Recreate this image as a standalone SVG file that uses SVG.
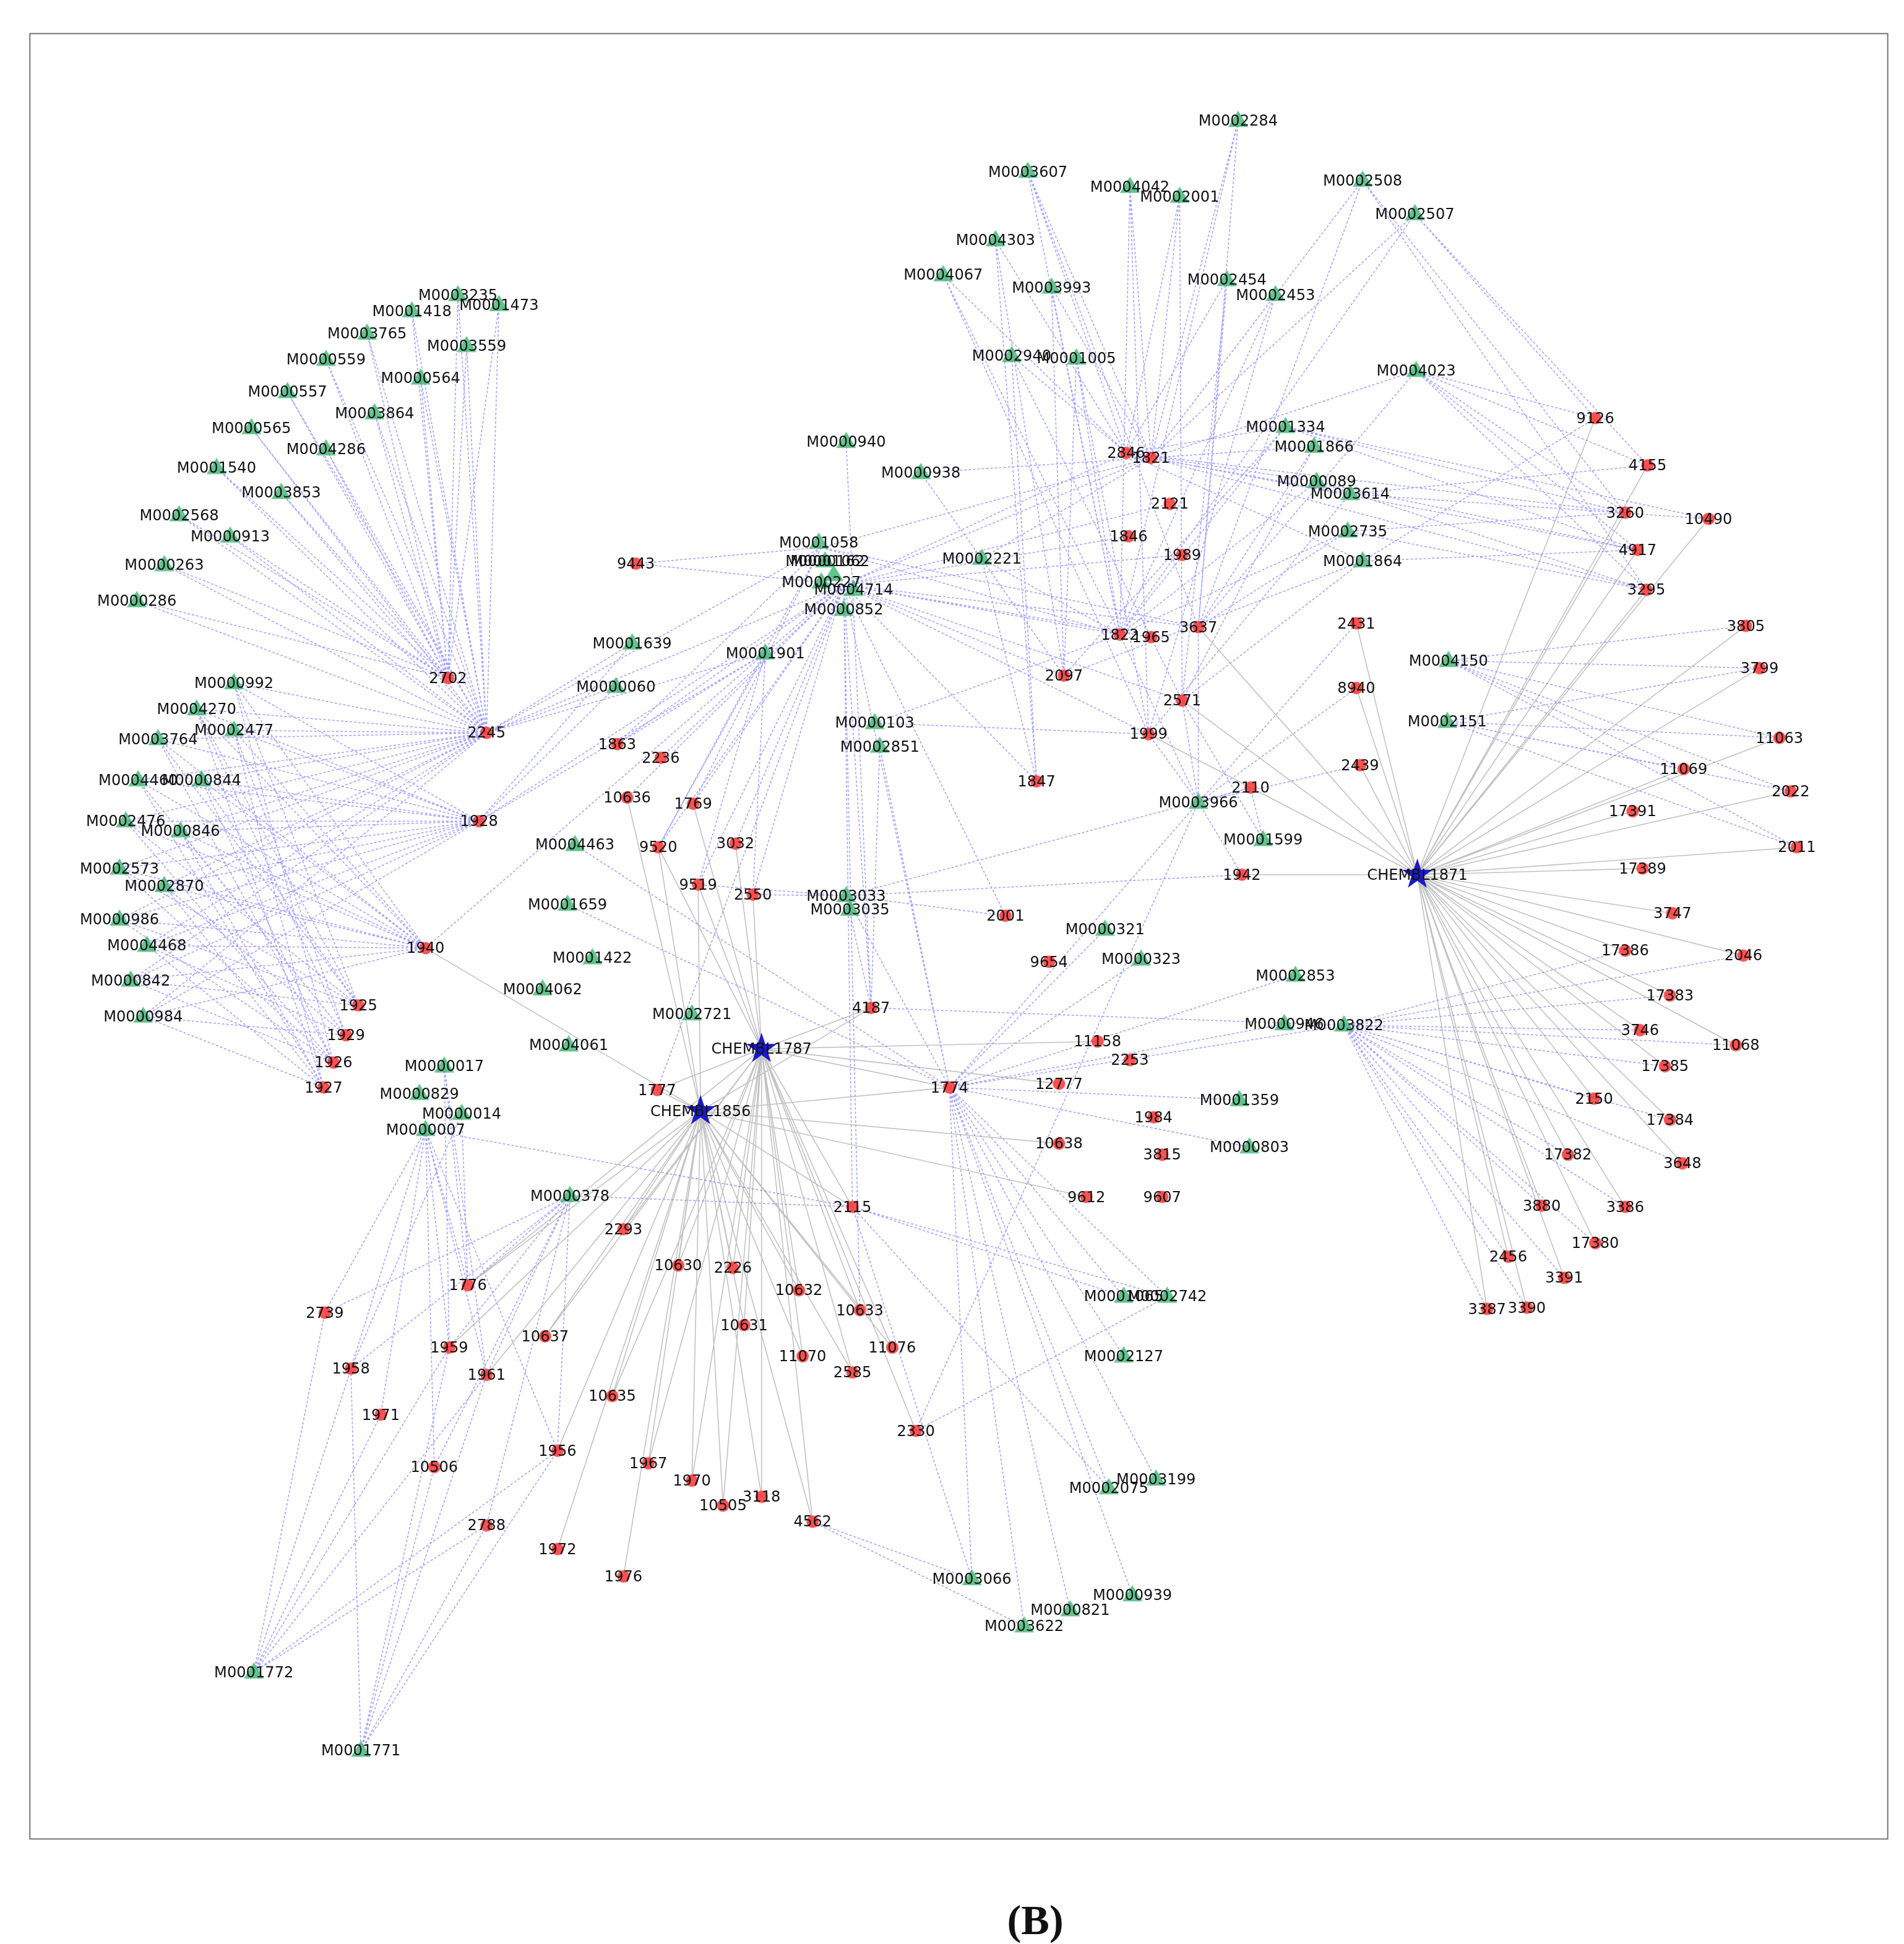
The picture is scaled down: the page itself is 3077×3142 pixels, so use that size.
<svg xmlns="http://www.w3.org/2000/svg" xmlns:xlink="http://www.w3.org/1999/xlink" width="3077" height="3142" viewBox="0 0 3077 3142">
<style>
.b{fill:none;stroke:#5a5aff;stroke-width:0.8;stroke-dasharray:2 1.5;opacity:0.55}
.g{fill:none;stroke:#999;stroke-width:0.8;opacity:0.6}
.t{fill:#3cb371;opacity:0.8}
.r{fill:#ff3333;opacity:0.85}
.s{fill:#1a1acc}
text{font-family:"DejaVu Sans",sans-serif;font-size:12px;fill:#111;text-anchor:middle;dominant-baseline:central}
.cap{font-family:"Liberation Serif",serif;font-size:34px;font-weight:bold}
</style>
<defs>
<polygon id="tri" points="0,-8 8,5 -8,5"/>
<circle id="cir" r="5"/>
<polygon id="star" points="0,-13 3,-4 12.4,-4 4.8,1.5 7.6,10.5 0,5 -7.6,10.5 -4.8,1.5 -12.4,-4 -3,-4"/>
</defs>
<rect width="3077" height="3142" fill="#fff"/>
<g transform="scale(2.011)">
<rect x="24" y="27" width="1493" height="1451" fill="none" stroke="#777" stroke-width="1"/>
<g id="connectors">
<path class="b" d="M360 545L368 237M360 545L331 250M360 545L401 245M360 545L295 268M360 545L375 278M360 545L262 289M360 545L338 304M360 545L231 315M360 545L301 332M360 545L202 344M360 545L262 361M360 545L174 376M360 545L226 396M360 545L144 414M360 545L185 431M360 545L132 454M360 545L110 483
M391 589L368 237M391 589L331 250M391 589L401 245M391 589L295 268M391 589L375 278M391 589L262 289M391 589L338 304M391 589L231 315M391 589L301 332M391 589L202 344M391 589L262 361M391 589L174 376M391 589L226 396M391 589L144 414M391 589L185 431M391 589L132 454M391 589L110 483
M391 589L188 549M391 589L158 570M391 589L188 587M391 589L127 594M391 589L111 627M391 589L162 627M391 589L101 660M391 589L145 668M391 589L96 698M391 589L132 712M391 589L96 739M391 589L118 760M391 589L105 788M391 589L115 817
M385 660L188 549M385 660L158 570M385 660L188 587M385 660L127 594M385 660L111 627M385 660L162 627M385 660L101 660M385 660L145 668M385 660L96 698M385 660L132 712M385 660L96 739M385 660L118 760M385 660L105 788M385 660L115 817
M342 762L188 549M342 762L158 570M342 762L188 587M342 762L127 594M342 762L111 627M342 762L162 627M342 762L101 660M342 762L145 668M342 762L96 698M342 762L132 712M342 762L96 739M342 762L118 760M342 762L105 788M342 762L115 817
M288 808L188 549M288 808L158 570M288 808L127 594M288 808L162 627M288 808L101 660M288 808L96 698M288 808L96 739M288 808L105 788
M278 832L188 587M278 832L111 627M278 832L145 668M278 832L132 712M278 832L118 760M278 832L115 817M278 832L158 570
M268 854L188 549M268 854L127 594M268 854L162 627M268 854L101 660M268 854L96 698M268 854L96 739M268 854L105 788
M260 874L188 587M260 874L111 627M260 874L145 668M260 874L132 712M260 874L118 760M260 874L115 817M260 874L158 570
M678 470L511 453M678 470L496 598M678 470L531 609M678 470L504 641M678 470L557 646M678 470L529 681M678 470L591 678M678 470L561 711M678 470L605 719M678 470L391 589M678 470L385 660M678 470L900 510M678 470L925 512M678 470L963 504M678 470L905 364M678 470L925 368M678 470L940 405M678 470L907 431M678 470L950 446M678 470L855 543M678 470L833 628M678 470L808 736M678 470L700 810M678 470L685 970M678 470L691 1053M678 470L763 874M678 470L528 876M678 470L342 762M678 470L950 563M678 470L923 590
M660 440L511 453M660 440L496 598M660 440L557 646M660 440L529 681M660 440L900 510M660 440L925 368M660 440L963 504M660 440L391 589M615 525L496 598M615 525L529 681M615 525L561 711M615 525L605 719M615 525L391 589M615 525L385 660M495 552L391 589M495 552L385 660M508 517L385 660M508 517L391 589
M826 138L925 368M826 138L905 364M826 138L900 510M826 138L963 504M908 150L925 368M908 150L900 510M908 150L923 590M948 158L925 368M948 158L905 364M948 158L950 563M995 97L925 368M995 97L963 504M995 97L900 510M1095 145L925 368M1095 145L963 504M1137 172L925 368M1137 172L900 510M800 193L905 364M800 193L855 543M800 193L833 628M758 221L905 364M758 221L900 510M758 221L923 590M845 231L925 368M845 231L900 510M845 231L855 543M986 225L905 364M986 225L963 504M986 225L950 563M1025 237L925 368M1025 237L900 510M1025 237L923 590M813 286L905 364M813 286L950 563M813 286L833 628M865 288L900 510M865 288L923 590M865 288L855 543M1138 298L925 368M1138 298L963 504M1033 343L905 364M1033 343L900 510M1033 343L855 543M1056 359L925 368M1056 359L963 504M1056 359L950 563M1058 387L905 364M1058 387L900 510M1085 397L925 368M1085 397L923 590M1083 427L900 510M1083 427L963 504M1095 451L905 364M1095 451L950 563M1095 451L855 543M789 449L925 368M789 449L900 510M789 449L833 628M680 355L700 810M740 380L855 543M740 380L925 368
M1138 298L1282 336M1138 298L1324 374M1138 298L1306 412M1138 298L1316 442M1138 298L1323 474M1137 172L1282 336M1137 172L1324 374M1095 145L1306 412M1095 145L1323 474M1033 343L1306 412M1033 343L1316 442M1033 343L1373 417M1058 387L1323 474M1058 387L1316 442M1085 397L1324 374M1085 397L1373 417M1083 427L1306 412M1083 427L1323 474M1095 451L1316 442M1095 451L1282 336M925 368L1323 474M905 364L1306 412M925 368L1316 442
M1080 824L1342 800M1080 824L1318 828M1080 824L1338 857M1080 824L1281 883M1080 824L1342 900M1080 824L1352 935M1080 824L1260 928M1080 824L1239 969M1080 824L1306 970M1080 824L1282 999M1080 824L1212 1010M1080 824L1257 1027M1080 824L1195 1052M1080 824L1227 1051M1080 824L1395 840M1080 824L1401 768M1080 824L1306 764M1080 824L763 874M1080 824L700 810
M1164 531L1430 593M1164 531L1353 618M1164 531L1439 636M1164 531L1444 681M1164 531L1403 503M1164 531L1414 537M1163 580L1430 593M1163 580L1353 618M1163 580L1439 636M1163 580L1444 681M1163 580L1414 537
M342 908L261 1055M342 908L282 1100M342 908L306 1137M342 908L361 1083M342 908L391 1105M342 908L376 1033M342 908L349 1179M342 908L448 1166M458 961L261 1055M458 961L282 1100M458 961L361 1083M458 961L391 1105M458 961L376 1033M458 961L391 1226M458 961L448 1166M458 961L349 1179M357 857L376 1033M357 857L361 1083M357 857L391 1105M371 895L376 1033M371 895L282 1100
M204 1344L282 1100M204 1344L306 1137M204 1344L261 1055M204 1344L361 1083M204 1344L391 1105M204 1344L448 1166M204 1344L391 1226M290 1407L282 1100M290 1407L349 1179M290 1407L391 1105M290 1407L448 1166M290 1407L361 1083M290 1407L391 1226
M763 874L903 1042M763 874L938 1042M763 874L903 1090M763 874L929 1189M763 874L891 1196M763 874L781 1269M763 874L910 1282M763 874L860 1294M763 874L823 1307M763 874L1041 784M763 874L1032 823M763 874L996 884M763 874L1004 922M763 874L963 645M763 874L888 747M763 874L917 771M763 874L462 679M763 874L456 727
M963 645L900 510M963 645L963 504M963 645L950 563M963 645L923 590M963 645L1005 633M963 645L998 703M963 645L1093 615M963 645L1090 553M963 645L1090 501M1015 675L950 563M1015 675L1005 633
M685 970L903 1042M685 970L938 1042M685 970L891 1196M685 970L781 1269M685 970L458 961M685 970L342 908M653 1223L781 1269M653 1223L823 1307M736 1150L938 1042M736 1150L963 645
M680 720L763 874M680 720L700 810M680 720L605 719M680 720L561 711M680 720L1005 633M680 720L998 703M680 720L808 736M707 600L700 810M707 600L763 874M703 581L900 510M703 581L923 590"/>
<path class="g" d="M1139 703L1282 336M1139 703L1324 374M1139 703L1373 417M1139 703L1306 412M1139 703L1316 442M1139 703L1323 474M1139 703L1403 503M1139 703L1414 537M1139 703L1430 593M1139 703L1353 618M1139 703L1439 636M1139 703L1312 652M1139 703L1444 681M1139 703L1320 698M1139 703L1344 734M1139 703L1306 764M1139 703L1401 768M1139 703L1342 800M1139 703L1318 828M1139 703L1395 840M1139 703L1338 857M1139 703L1281 883M1139 703L1342 900M1139 703L1352 935M1139 703L1260 928M1139 703L1239 969M1139 703L1306 970M1139 703L1282 999M1139 703L1212 1010M1139 703L1257 1027M1139 703L1195 1052M1139 703L1227 1051M1139 703L950 563M1139 703L998 703M1139 703L963 504M1139 703L923 590M1139 703L1005 633M1139 703L1093 615M1139 703L1090 553M1139 703L1090 501
M612 843L501 988M612 843L545 1017M612 843L589 1019M612 843L642 1037M612 843L691 1053M612 843L376 1033M612 843L598 1065M612 843L438 1074M612 843L717 1083M612 843L645 1090M612 843L685 1103M612 843L492 1122M612 843L521 1176M612 843L556 1190M612 843L612 1203M612 843L581 1210M612 843L653 1223M612 843L685 970M612 843L763 874M612 843L700 810M612 843L528 876M612 843L529 681M612 843L561 711M612 843L605 719M612 843L591 678M612 843L557 646M612 843L736 1150M612 843L851 871M612 843L882 837
M563 893L501 988M563 893L545 1017M563 893L589 1019M563 893L642 1037M563 893L691 1053M563 893L376 1033M563 893L598 1065M563 893L438 1074M563 893L717 1083M563 893L645 1090M563 893L685 1103M563 893L361 1083M563 893L391 1105M563 893L492 1122M563 893L448 1166M563 893L521 1176M563 893L556 1190M563 893L612 1203M563 893L581 1210M563 893L653 1223M563 893L448 1245M563 893L501 1267M563 893L685 970M563 893L763 874M563 893L700 810M563 893L528 876M563 893L529 681M563 893L561 711M563 893L504 641M563 893L342 762M563 893L851 919M563 893L873 962"/>
</g>
<g id="nodes-green" class="t">
<use href="#tri" x="995" y="97"/><use href="#tri" x="826" y="138"/><use href="#tri" x="908" y="150"/><use href="#tri" x="948" y="158"/><use href="#tri" x="1095" y="145"/><use href="#tri" x="1137" y="172"/><use href="#tri" x="800" y="193"/><use href="#tri" x="758" y="221"/><use href="#tri" x="845" y="231"/><use href="#tri" x="986" y="225"/><use href="#tri" x="1025" y="237"/><use href="#tri" x="813" y="286"/><use href="#tri" x="865" y="288"/><use href="#tri" x="1138" y="298"/><use href="#tri" x="680" y="355"/><use href="#tri" x="740" y="380"/><use href="#tri" x="1033" y="343"/><use href="#tri" x="1056" y="359"/><use href="#tri" x="1058" y="387"/><use href="#tri" x="1085" y="397"/><use href="#tri" x="1083" y="427"/><use href="#tri" x="1095" y="451"/><use href="#tri" x="789" y="449"/><use href="#tri" x="658" y="436"/><use href="#tri" x="663" y="451"/><use href="#tri" x="670" y="462"/><use href="#tri" x="660" y="468"/><use href="#tri" x="686" y="474"/><use href="#tri" x="678" y="490"/><use href="#tri" x="508" y="517"/><use href="#tri" x="615" y="525"/><use href="#tri" x="495" y="552"/><use href="#tri" x="1164" y="531"/><use href="#tri" x="1163" y="580"/><use href="#tri" x="703" y="581"/><use href="#tri" x="707" y="600"/><use href="#tri" x="963" y="645"/><use href="#tri" x="1015" y="675"/><use href="#tri" x="462" y="679"/><use href="#tri" x="456" y="727"/><use href="#tri" x="680" y="720"/><use href="#tri" x="683" y="731"/><use href="#tri" x="888" y="747"/><use href="#tri" x="917" y="771"/><use href="#tri" x="476" y="770"/><use href="#tri" x="436" y="795"/><use href="#tri" x="1041" y="784"/><use href="#tri" x="556" y="815"/><use href="#tri" x="1032" y="823"/><use href="#tri" x="1080" y="824"/><use href="#tri" x="457" y="840"/><use href="#tri" x="357" y="857"/><use href="#tri" x="337" y="879"/><use href="#tri" x="371" y="895"/><use href="#tri" x="342" y="908"/><use href="#tri" x="996" y="884"/><use href="#tri" x="1004" y="922"/><use href="#tri" x="458" y="961"/><use href="#tri" x="903" y="1042"/><use href="#tri" x="938" y="1042"/><use href="#tri" x="903" y="1090"/><use href="#tri" x="929" y="1189"/><use href="#tri" x="891" y="1196"/><use href="#tri" x="781" y="1269"/><use href="#tri" x="910" y="1282"/><use href="#tri" x="860" y="1294"/><use href="#tri" x="823" y="1307"/><use href="#tri" x="204" y="1344"/><use href="#tri" x="290" y="1407"/>
<use href="#tri" x="368" y="237"/><use href="#tri" x="331" y="250"/><use href="#tri" x="401" y="245"/><use href="#tri" x="295" y="268"/><use href="#tri" x="375" y="278"/><use href="#tri" x="262" y="289"/><use href="#tri" x="338" y="304"/><use href="#tri" x="231" y="315"/><use href="#tri" x="301" y="332"/><use href="#tri" x="202" y="344"/><use href="#tri" x="262" y="361"/><use href="#tri" x="174" y="376"/><use href="#tri" x="226" y="396"/><use href="#tri" x="144" y="414"/><use href="#tri" x="185" y="431"/><use href="#tri" x="132" y="454"/><use href="#tri" x="110" y="483"/><use href="#tri" x="188" y="549"/><use href="#tri" x="158" y="570"/><use href="#tri" x="188" y="587"/><use href="#tri" x="127" y="594"/><use href="#tri" x="111" y="627"/><use href="#tri" x="162" y="627"/><use href="#tri" x="101" y="660"/><use href="#tri" x="145" y="668"/><use href="#tri" x="96" y="698"/><use href="#tri" x="132" y="712"/><use href="#tri" x="96" y="739"/><use href="#tri" x="118" y="760"/><use href="#tri" x="105" y="788"/><use href="#tri" x="115" y="817"/>
</g>
<g id="nodes-red" class="r">
<use href="#cir" x="905" y="364"/><use href="#cir" x="925" y="368"/><use href="#cir" x="940" y="405"/><use href="#cir" x="907" y="431"/><use href="#cir" x="950" y="446"/><use href="#cir" x="511" y="453"/><use href="#cir" x="900" y="510"/><use href="#cir" x="925" y="512"/><use href="#cir" x="963" y="504"/><use href="#cir" x="1090" y="501"/><use href="#cir" x="855" y="543"/><use href="#cir" x="950" y="563"/><use href="#cir" x="1090" y="553"/><use href="#cir" x="923" y="590"/><use href="#cir" x="1093" y="615"/><use href="#cir" x="1005" y="633"/><use href="#cir" x="833" y="628"/><use href="#cir" x="496" y="598"/><use href="#cir" x="531" y="609"/><use href="#cir" x="360" y="545"/><use href="#cir" x="391" y="589"/><use href="#cir" x="385" y="660"/><use href="#cir" x="504" y="641"/><use href="#cir" x="557" y="646"/><use href="#cir" x="529" y="681"/><use href="#cir" x="591" y="678"/><use href="#cir" x="561" y="711"/><use href="#cir" x="605" y="719"/><use href="#cir" x="342" y="762"/><use href="#cir" x="808" y="736"/><use href="#cir" x="843" y="773"/><use href="#cir" x="998" y="703"/><use href="#cir" x="700" y="810"/><use href="#cir" x="288" y="808"/><use href="#cir" x="278" y="832"/><use href="#cir" x="268" y="854"/><use href="#cir" x="260" y="874"/><use href="#cir" x="528" y="876"/><use href="#cir" x="763" y="874"/><use href="#cir" x="851" y="871"/><use href="#cir" x="882" y="837"/><use href="#cir" x="908" y="852"/><use href="#cir" x="927" y="898"/><use href="#cir" x="851" y="919"/><use href="#cir" x="934" y="928"/><use href="#cir" x="873" y="962"/><use href="#cir" x="934" y="962"/><use href="#cir" x="685" y="970"/><use href="#cir" x="501" y="988"/><use href="#cir" x="545" y="1017"/><use href="#cir" x="589" y="1019"/><use href="#cir" x="642" y="1037"/><use href="#cir" x="691" y="1053"/><use href="#cir" x="376" y="1033"/><use href="#cir" x="261" y="1055"/><use href="#cir" x="598" y="1065"/><use href="#cir" x="438" y="1074"/><use href="#cir" x="717" y="1083"/><use href="#cir" x="645" y="1090"/><use href="#cir" x="685" y="1103"/><use href="#cir" x="361" y="1083"/><use href="#cir" x="391" y="1105"/><use href="#cir" x="282" y="1100"/><use href="#cir" x="306" y="1137"/><use href="#cir" x="492" y="1122"/><use href="#cir" x="736" y="1150"/><use href="#cir" x="448" y="1166"/><use href="#cir" x="349" y="1179"/><use href="#cir" x="521" y="1176"/><use href="#cir" x="556" y="1190"/><use href="#cir" x="612" y="1203"/><use href="#cir" x="581" y="1210"/><use href="#cir" x="653" y="1223"/><use href="#cir" x="391" y="1226"/><use href="#cir" x="448" y="1245"/><use href="#cir" x="501" y="1267"/>
<use href="#cir" x="1282" y="336"/><use href="#cir" x="1324" y="374"/><use href="#cir" x="1373" y="417"/><use href="#cir" x="1306" y="412"/><use href="#cir" x="1316" y="442"/><use href="#cir" x="1323" y="474"/><use href="#cir" x="1403" y="503"/><use href="#cir" x="1414" y="537"/><use href="#cir" x="1430" y="593"/><use href="#cir" x="1353" y="618"/><use href="#cir" x="1439" y="636"/><use href="#cir" x="1312" y="652"/><use href="#cir" x="1444" y="681"/><use href="#cir" x="1320" y="698"/><use href="#cir" x="1344" y="734"/><use href="#cir" x="1306" y="764"/><use href="#cir" x="1401" y="768"/><use href="#cir" x="1342" y="800"/><use href="#cir" x="1318" y="828"/><use href="#cir" x="1395" y="840"/><use href="#cir" x="1338" y="857"/><use href="#cir" x="1281" y="883"/><use href="#cir" x="1342" y="900"/><use href="#cir" x="1352" y="935"/><use href="#cir" x="1260" y="928"/><use href="#cir" x="1239" y="969"/><use href="#cir" x="1306" y="970"/><use href="#cir" x="1282" y="999"/><use href="#cir" x="1212" y="1010"/><use href="#cir" x="1257" y="1027"/><use href="#cir" x="1195" y="1052"/><use href="#cir" x="1227" y="1051"/>
</g>
<g id="nodes-star" class="s">
<use href="#star" x="1139" y="703"/><use href="#star" x="612" y="843"/><use href="#star" x="563" y="893"/>
</g>
<g id="labels">
<text x="995" y="97">M0002284</text><text x="826" y="138">M0003607</text><text x="908" y="150">M0004042</text><text x="948" y="158">M0002001</text><text x="1095" y="145">M0002508</text><text x="1137" y="172">M0002507</text><text x="800" y="193">M0004303</text><text x="758" y="221">M0004067</text><text x="845" y="231">M0003993</text><text x="986" y="225">M0002454</text><text x="1025" y="237">M0002453</text><text x="813" y="286">M0002940</text><text x="865" y="288">M0001005</text><text x="1138" y="298">M0004023</text><text x="680" y="355">M0000940</text><text x="740" y="380">M0000938</text><text x="1033" y="343">M0001334</text><text x="1056" y="359">M0001866</text><text x="1058" y="387">M0000089</text><text x="1085" y="397">M0003614</text><text x="1083" y="427">M0002735</text><text x="1095" y="451">M0001864</text><text x="789" y="449">M0002221</text><text x="658" y="436">M0001058</text><text x="663" y="451">M0000162</text><text x="667" y="451">M0001062</text><text x="660" y="468">M0000227</text><text x="686" y="474">M0004714</text><text x="678" y="490">M0000852</text><text x="508" y="517">M0001639</text><text x="615" y="525">M0001901</text><text x="495" y="552">M0000060</text><text x="1164" y="531">M0004150</text><text x="1163" y="580">M0002151</text><text x="703" y="581">M0000103</text><text x="707" y="600">M0002851</text><text x="963" y="645">M0003966</text><text x="1015" y="675">M0001599</text><text x="462" y="679">M0004463</text><text x="456" y="727">M0001659</text><text x="680" y="720">M0003033</text><text x="683" y="731">M0003035</text><text x="888" y="747">M0000321</text><text x="917" y="771">M0000323</text><text x="476" y="770">M0001422</text><text x="436" y="795">M0004062</text><text x="1041" y="784">M0002853</text><text x="556" y="815">M0002721</text><text x="1032" y="823">M0000946</text><text x="1080" y="824">M0003822</text><text x="457" y="840">M0004061</text><text x="357" y="857">M0000017</text><text x="337" y="879">M0000829</text><text x="371" y="895">M0000014</text><text x="342" y="908">M0000007</text><text x="996" y="884">M0001359</text><text x="1004" y="922">M0000803</text><text x="458" y="961">M0000378</text><text x="903" y="1042">M0001065</text><text x="938" y="1042">M0002742</text><text x="903" y="1090">M0002127</text><text x="929" y="1189">M0003199</text><text x="891" y="1196">M0002075</text><text x="781" y="1269">M0003066</text><text x="910" y="1282">M0000939</text><text x="860" y="1294">M0000821</text><text x="823" y="1307">M0003622</text><text x="204" y="1344">M0001772</text><text x="290" y="1407">M0001771</text>
<text x="368" y="237">M0003235</text><text x="331" y="250">M0001418</text><text x="401" y="245">M0001473</text><text x="295" y="268">M0003765</text><text x="375" y="278">M0003559</text><text x="262" y="289">M0000559</text><text x="338" y="304">M0000564</text><text x="231" y="315">M0000557</text><text x="301" y="332">M0003864</text><text x="202" y="344">M0000565</text><text x="262" y="361">M0004286</text><text x="174" y="376">M0001540</text><text x="226" y="396">M0003853</text><text x="144" y="414">M0002568</text><text x="185" y="431">M0000913</text><text x="132" y="454">M0000263</text><text x="110" y="483">M0000286</text><text x="188" y="549">M0000992</text><text x="158" y="570">M0004270</text><text x="188" y="587">M0002477</text><text x="127" y="594">M0003764</text><text x="111" y="627">M0004460</text><text x="162" y="627">M0000844</text><text x="101" y="660">M0002476</text><text x="145" y="668">M0000846</text><text x="96" y="698">M0002573</text><text x="132" y="712">M0002870</text><text x="96" y="739">M0000986</text><text x="118" y="760">M0004468</text><text x="105" y="788">M0000842</text><text x="115" y="817">M0000984</text>
<text x="1139" y="703">CHEMBL1871</text><text x="612" y="843">CHEMBL1787</text><text x="563" y="893">CHEMBL1856</text>
<text x="905" y="364">2846</text><text x="925" y="368">1821</text><text x="940" y="405">2121</text><text x="907" y="431">1846</text><text x="950" y="446">1989</text><text x="511" y="453">9443</text><text x="900" y="510">1822</text><text x="925" y="512">1965</text><text x="963" y="504">3637</text><text x="1090" y="501">2431</text><text x="855" y="543">2097</text><text x="950" y="563">2571</text><text x="1090" y="553">8940</text><text x="923" y="590">1999</text><text x="1093" y="615">2439</text><text x="1005" y="633">2110</text><text x="833" y="628">1847</text><text x="496" y="598">1863</text><text x="531" y="609">2236</text><text x="360" y="545">2702</text><text x="391" y="589">2245</text><text x="385" y="660">1928</text><text x="504" y="641">10636</text><text x="557" y="646">1769</text><text x="529" y="681">9520</text><text x="591" y="678">3032</text><text x="561" y="711">9519</text><text x="605" y="719">2550</text><text x="342" y="762">1940</text><text x="808" y="736">2001</text><text x="843" y="773">9654</text><text x="998" y="703">1942</text><text x="700" y="810">4187</text><text x="288" y="808">1925</text><text x="278" y="832">1929</text><text x="268" y="854">1926</text><text x="260" y="874">1927</text><text x="528" y="876">1777</text><text x="763" y="874">1774</text><text x="851" y="871">12777</text><text x="882" y="837">11158</text><text x="908" y="852">2253</text><text x="927" y="898">1984</text><text x="851" y="919">10638</text><text x="934" y="928">3815</text><text x="873" y="962">9612</text><text x="934" y="962">9607</text><text x="685" y="970">2115</text><text x="501" y="988">2293</text><text x="545" y="1017">10630</text><text x="589" y="1019">2226</text><text x="642" y="1037">10632</text><text x="691" y="1053">10633</text><text x="376" y="1033">1776</text><text x="261" y="1055">2739</text><text x="598" y="1065">10631</text><text x="438" y="1074">10637</text><text x="717" y="1083">11076</text><text x="645" y="1090">11070</text><text x="685" y="1103">2585</text><text x="361" y="1083">1959</text><text x="391" y="1105">1961</text><text x="282" y="1100">1958</text><text x="306" y="1137">1971</text><text x="492" y="1122">10635</text><text x="736" y="1150">2330</text><text x="448" y="1166">1956</text><text x="349" y="1179">10506</text><text x="521" y="1176">1967</text><text x="556" y="1190">1970</text><text x="612" y="1203">3118</text><text x="581" y="1210">10505</text><text x="653" y="1223">4562</text><text x="391" y="1226">2788</text><text x="448" y="1245">1972</text><text x="501" y="1267">1976</text>
<text x="1282" y="336">9126</text><text x="1324" y="374">4155</text><text x="1373" y="417">10490</text><text x="1306" y="412">3260</text><text x="1316" y="442">4917</text><text x="1323" y="474">3295</text><text x="1403" y="503">3805</text><text x="1414" y="537">3799</text><text x="1430" y="593">11063</text><text x="1353" y="618">11069</text><text x="1439" y="636">2022</text><text x="1312" y="652">17391</text><text x="1444" y="681">2011</text><text x="1320" y="698">17389</text><text x="1344" y="734">3747</text><text x="1306" y="764">17386</text><text x="1401" y="768">2046</text><text x="1342" y="800">17383</text><text x="1318" y="828">3746</text><text x="1395" y="840">11068</text><text x="1338" y="857">17385</text><text x="1281" y="883">2150</text><text x="1342" y="900">17384</text><text x="1352" y="935">3648</text><text x="1260" y="928">17382</text><text x="1239" y="969">3880</text><text x="1306" y="970">3386</text><text x="1282" y="999">17380</text><text x="1212" y="1010">2456</text><text x="1257" y="1027">3391</text><text x="1195" y="1052">3387</text><text x="1227" y="1051">3390</text>
</g>
<text class="cap" x="832" y="1543">(B)</text>
</g>
</svg>
